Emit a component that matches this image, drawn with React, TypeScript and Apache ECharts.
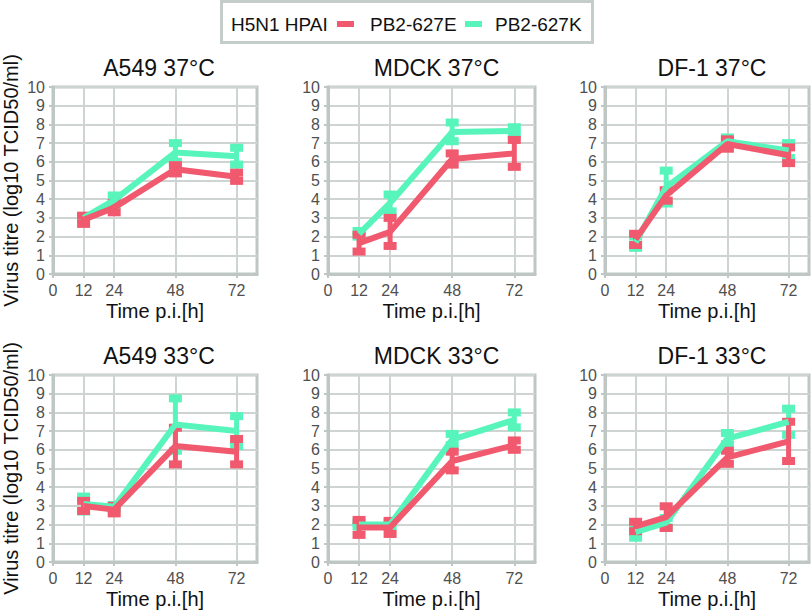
import React, { useEffect, useRef } from "react";
import * as echarts from "echarts";

// ---- data ----
const hours = [12, 24, 48, 72];
const xTicks = [0, 12, 24, 48, 72];
const panelTitles = ["A549 37°C", "MDCK 37°C", "DF-1 37°C", "A549 33°C", "MDCK 33°C", "DF-1 33°C"];
const seriesNames = ["PB2-627E", "PB2-627K"];
const legendTitle = "H5N1 HPAI";
const yTitle = "Virus titre (log10 TCID50/ml)";
const xTitle = "Time p.i.[h]";

// mean and SD per panel (PB2-627E = E, PB2-627K = K)
const a549_37_E = [2.9, 3.55, 5.6, 5.2];
const a549_37_E_sd = [0.22, 0.25, 0.22, 0.22];
const a549_37_K = [3.0, 3.95, 6.5, 6.3];
const a549_37_K_sd = [0.1, 0.25, 0.5, 0.45];

const mdck_37_E = [1.65, 2.25, 6.15, 6.45];
const mdck_37_E_sd = [0.45, 0.75, 0.3, 0.72];
const mdck_37_K = [2.15, 3.8, 7.6, 7.65];
const mdck_37_K_sd = [0.15, 0.45, 0.5, 0.2];

const df1_37_E = [1.85, 4.2, 6.95, 6.35];
const df1_37_E_sd = [0.3, 0.28, 0.25, 0.42];
const df1_37_K = [1.7, 4.65, 7.1, 6.6];
const df1_37_K_sd = [0.3, 0.88, 0.2, 0.4];

const a549_33_E = [3.0, 2.8, 6.2, 5.9];
const a549_33_E_sd = [0.27, 0.2, 0.98, 0.68];
const a549_33_K = [3.1, 2.95, 7.35, 7.0];
const a549_33_K_sd = [0.4, 0.1, 1.4, 0.8];

const mdck_33_E = [1.85, 1.85, 5.4, 6.25];
const mdck_33_E_sd = [0.4, 0.35, 0.5, 0.25];
const mdck_33_K = [2.0, 2.0, 6.55, 7.6];
const mdck_33_K_sd = [0.1, 0.1, 0.3, 0.4];

const df1_33_E = [1.9, 2.4, 5.6, 6.45];
const df1_33_E_sd = [0.25, 0.58, 0.35, 1.05];
const df1_33_K = [1.6, 2.1, 6.6, 7.5];
const df1_33_K_sd = [0.3, 0.25, 0.3, 0.7];

const panelsE = [a549_37_E, mdck_37_E, df1_37_E, a549_33_E, mdck_33_E, df1_33_E];
const panelsEsd = [a549_37_E_sd, mdck_37_E_sd, df1_37_E_sd, a549_33_E_sd, mdck_33_E_sd, df1_33_E_sd];
const panelsK = [a549_37_K, mdck_37_K, df1_37_K, a549_33_K, mdck_33_K, df1_33_K];
const panelsKsd = [a549_37_K_sd, mdck_37_K_sd, df1_37_K_sd, a549_33_K_sd, mdck_33_K_sd, df1_33_K_sd];

// ---- styles ----
const RED = "#f0596e";
const GREEN = "#57f5bb";
const GRID_C = "#cdd4d1";
const AXIS_C = "#bec7c4";
const FONT = "'Liberation Sans', Arial, Helvetica, sans-serif";

const gridLefts = [51, 328, 605];
const gridWidths = [206, 207, 204];
const gridTops = [87, 375];
const gridH = 187;

function errRender(color: string) {
  return (params: any, api: any) => {
    const x = api.value(0);
    const lo = api.value(1);
    const hi = api.value(2);
    const pLo = api.coord([x, lo]);
    const pHi = api.coord([x, hi]);
    const cw = 6.5;
    const ch = 8;
    return {
      type: "group",
      children: [
        { type: "line", shape: { x1: pLo[0], y1: pLo[1], x2: pHi[0], y2: pHi[1] }, style: { stroke: color, lineWidth: 5 } },
        { type: "rect", shape: { x: pHi[0] - cw, y: pHi[1] - ch / 2, width: cw * 2, height: ch }, style: { fill: color } },
        { type: "rect", shape: { x: pLo[0] - cw, y: pLo[1] - ch / 2, width: cw * 2, height: ch }, style: { fill: color } },
      ],
    };
  };
}

export default function App() {
  const ref = useRef<HTMLDivElement>(null);
  useEffect(() => {
    if (!ref.current) return;
    const chart = echarts.init(ref.current, null, { renderer: "svg" });
    const grids: any[] = [];
    const xAxes: any[] = [];
    const yAxes: any[] = [];
    const titles: any[] = [];
    const series: any[] = [];
    for (let i = 0; i < 6; i++) {
      const col = i % 3;
      const row = Math.floor(i / 3);
      grids.push({
        left: gridLefts[col],
        top: gridTops[row],
        width: gridWidths[col],
        height: gridH,
        show: true,
        borderColor: AXIS_C,
        borderWidth: 3,
        containLabel: false,
      });
      xAxes.push({
        type: "value",
        gridIndex: i,
        min: 0,
        max: 80,
        name: xTitle,
        nameLocation: "middle",
        nameGap: 27,
        nameTextStyle: { fontSize: 20, color: "#111", fontFamily: FONT },
        axisLine: { show: true, lineStyle: { color: AXIS_C, width: 3 } },
        axisTick: { show: true, length: 4, customValues: xTicks, lineStyle: { color: AXIS_C, width: 2 } },
        axisLabel: { customValues: xTicks, fontSize: 16, color: "#505050", fontFamily: FONT, margin: 8 },
        splitLine: { show: true, lineStyle: { color: GRID_C, width: 2 } },
      });
      yAxes.push({
        type: "value",
        gridIndex: i,
        min: 0,
        max: 10,
        interval: 1,
        name: col === 0 ? yTitle : "",
        nameLocation: "middle",
        nameGap: 32,
        nameTextStyle: { fontSize: 20, color: "#111", fontFamily: FONT },
        axisLine: { show: true, lineStyle: { color: AXIS_C, width: 3 } },
        axisTick: { show: true, length: 4, lineStyle: { color: AXIS_C, width: 2 } },
        axisLabel: { fontSize: 16, color: "#505050", fontFamily: FONT, margin: 8 },
        splitLine: { show: true, lineStyle: { color: GRID_C, width: 2 } },
      });
      titles.push({
        text: panelTitles[i],
        left: gridLefts[col] + gridWidths[col] / 2,
        top: row === 0 ? 51 : 339,
        textAlign: "center",
        textStyle: { fontSize: 23, fontWeight: "normal", color: "#111", fontFamily: FONT },
      });
      const sets = [
        { name: seriesNames[1], mean: panelsK[i], sd: panelsKsd[i], color: GREEN },
        { name: seriesNames[0], mean: panelsE[i], sd: panelsEsd[i], color: RED },
      ];
      for (const s of sets) {
        series.push({
          type: "line",
          name: s.name,
          xAxisIndex: i,
          yAxisIndex: i,
          data: hours.map((h, k) => [h, s.mean[k]]),
          symbol: "none",
          lineStyle: { color: s.color, width: 6 },
          itemStyle: { color: s.color },
          z: 3,
        });
        series.push({
          type: "custom",
          name: s.name,
          xAxisIndex: i,
          yAxisIndex: i,
          data: hours.map((h, k) => [h, s.mean[k] - s.sd[k], s.mean[k] + s.sd[k]]),
          encode: { x: 0, y: [1, 2] },
          renderItem: errRender(s.color),
          itemStyle: { color: s.color },
          z: 3,
        });
      }
    }
    const legendY = 24;
    chart.setOption({
      animation: false,
      backgroundColor: "#ffffff",
      title: titles,
      grid: grids,
      xAxis: xAxes,
      yAxis: yAxes,
      series,
      graphic: [
        { type: "rect", shape: { x: 221.5, y: 1.5, width: 371, height: 41 }, style: { fill: "#fff", stroke: "#c5cdca", lineWidth: 3 }, z: 10 },
        { type: "text", x: 231, y: legendY, style: { text: legendTitle, fontSize: 19, fill: "#111", fontFamily: FONT, verticalAlign: "middle", align: "left" }, z: 11 },
        { type: "rect", shape: { x: 337, y: legendY - 3, width: 17, height: 6 }, style: { fill: RED }, z: 11 },
        { type: "text", x: 370, y: legendY, style: { text: seriesNames[0], fontSize: 19, fill: "#111", fontFamily: FONT, verticalAlign: "middle", align: "left" }, z: 11 },
        { type: "rect", shape: { x: 465, y: legendY - 3, width: 17, height: 6 }, style: { fill: GREEN }, z: 11 },
        { type: "text", x: 495, y: legendY, style: { text: seriesNames[1], fontSize: 19, fill: "#111", fontFamily: FONT, verticalAlign: "middle", align: "left" }, z: 11 },
      ],
    });
    return () => chart.dispose();
  }, []);
  return <div ref={ref} style={{ position: "absolute", left: 0, top: 0, width: 812, height: 610 }} />;
}
